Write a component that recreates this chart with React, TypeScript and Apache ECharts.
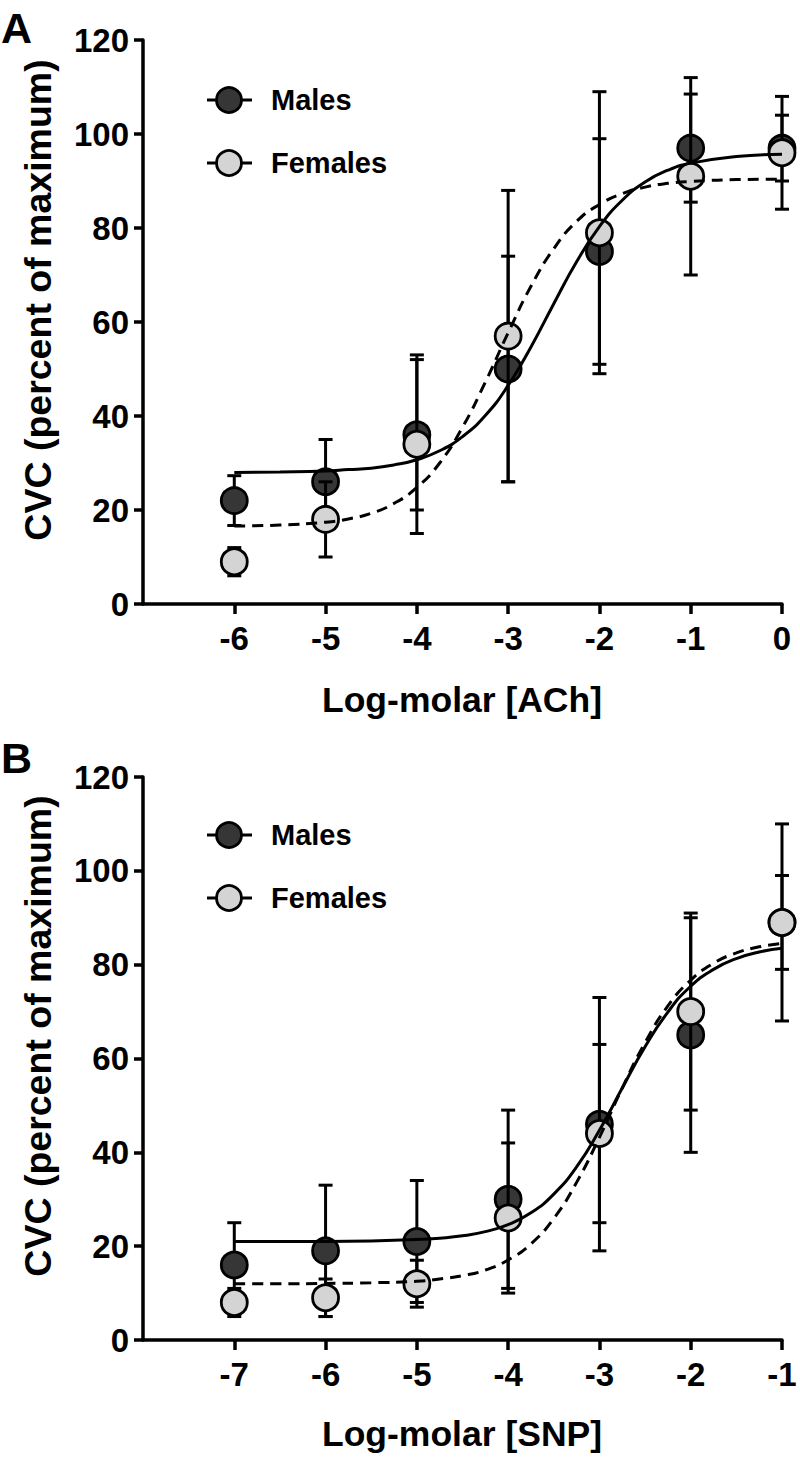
import React, { useEffect, useRef } from "react";
import * as echarts from "echarts";

// ---- tick labels ----
const xTicksA = [-6, -5, -4, -3, -2, -1, 0];
const xTicksB = [-7, -6, -5, -4, -3, -2, -1];
const yTicks = [0, 20, 40, 60, 80, 100, 120];

// ---- Panel A: ACh ----
const achDose = [-6, -5, -4, -3, -2, -1, 0];
const achMale = [22, 26, 36, 50, 75, 97, 97];
const achMaleErr = [5.3, 9, 16, 24, 24, 11.5, 7];
const achFemale = [9, 18, 34, 57, 79, 91, 96];
const achFemaleErr = [3, 8, 19, 31, 30, 21, 12];

// fitted curves
const achCurveX = [-6, -5.5, -5, -4.75, -4.5, -4.25, -4, -3.75, -3.5, -3.25, -3, -2.75, -2.5, -2.25, -2, -1.75, -1.5, -1.25, -1, -0.5, 0];
const achMaleFit = [28.0, 28.1, 28.3, 28.6, 28.9, 29.6, 30.7, 32.6, 35.6, 40.1, 46.5, 54.7, 63.9, 72.8, 80.3, 85.9, 89.8, 92.3, 93.8, 95.2, 95.7];
const achFemaleFit = [16.6, 16.8, 17.4, 18.1, 19.3, 21.4, 24.8, 30.0, 37.6, 47.2, 57.7, 67.6, 75.6, 81.4, 85.0, 87.3, 88.7, 89.5, 89.9, 90.3, 90.4];

// ---- Panel B: SNP ----
const snpDose = [-7, -6, -5, -4, -3, -2, -1];
const snpMale = [16, 19, 21, 30, 46, 65, 89];
const snpMaleErr = [9, 14, 13, 19, 27, 25, 10];
const snpFemale = [8, 9, 12, 26, 44, 70, 89];
const snpFemaleErr = [3, 4, 5, 16, 19, 21, 21];

const snpCurveX = [-7, -6.5, -6, -5.5, -5, -4.75, -4.5, -4.25, -4, -3.75, -3.5, -3.25, -3, -2.75, -2.5, -2.25, -2, -1.75, -1.5, -1.25, -1];
const snpMaleFit = [21.0, 21.0, 21.0, 21.1, 21.4, 21.7, 22.2, 23.1, 24.6, 27.1, 31.1, 36.9, 44.7, 53.7, 62.5, 69.9, 75.4, 79.0, 81.3, 82.7, 83.5];
const snpFemaleFit = [12.0, 12.0, 12.05, 12.2, 12.5, 13.0, 13.7, 14.9, 17.05, 20.5, 25.9, 33.6, 43.2, 53.7, 63.4, 71.2, 76.7, 80.3, 82.5, 83.8, 84.5];

const FONT = '"Liberation Sans", Arial, Helvetica, sans-serif';
const DARK = "#363636";
const LIGHT = "#d4d4d4";

function errorSeries(xs: number[], ys: number[], errs: number[], axis: number, z: number) {
  return {
    type: "custom",
    xAxisIndex: axis,
    yAxisIndex: axis,
    z,
    silent: true,
    data: xs.map((x, i) => [x, ys[i] - errs[i], ys[i] + errs[i]]),
    encode: { x: 0, y: [1, 2] },
    renderItem: (params: any, api: any) => {
      const x = api.value(0);
      const lo = api.coord([x, api.value(1)]);
      const hi = api.coord([x, api.value(2)]);
      const hw = 7;
      const style = { stroke: "#000", lineWidth: 3 };
      return {
        type: "group",
        children: [
          { type: "line", shape: { x1: lo[0], y1: lo[1], x2: hi[0], y2: hi[1] }, style },
          { type: "line", shape: { x1: lo[0] - hw, y1: lo[1], x2: lo[0] + hw, y2: lo[1] }, style },
          { type: "line", shape: { x1: hi[0] - hw, y1: hi[1], x2: hi[0] + hw, y2: hi[1] }, style },
        ],
      };
    },
  };
}

function pointSeries(name: string, xs: number[], ys: number[], axis: number, color: string, z: number) {
  return {
    type: "scatter",
    name,
    xAxisIndex: axis,
    yAxisIndex: axis,
    z,
    symbol: "circle",
    symbolSize: 26,
    itemStyle: { color, borderColor: "#000", borderWidth: 2.8, opacity: 1 },
    data: xs.map((x, i) => [x, ys[i]]),
  };
}

function curveSeries(xs: number[], ys: number[], axis: number, dashed: boolean) {
  return {
    type: "line",
    xAxisIndex: axis,
    yAxisIndex: axis,
    z: 10,
    smooth: true,
    showSymbol: false,
    silent: true,
    lineStyle: { color: "#000", width: 3, type: dashed ? [11, 7] : "solid" },
    data: xs.map((x, i) => [x, ys[i]]),
  };
}

function xAxisDef(grid: number, min: number, max: number, ticks: number[]) {
  return {
    type: "value",
    gridIndex: grid,
    min,
    max,
    interval: 1,
    splitLine: { show: false },
    axisLine: { show: true, onZero: false, lineStyle: { color: "#000", width: 3.5 } },
    axisTick: { show: true, customValues: ticks, length: 10, lineStyle: { color: "#000", width: 3.5 } },
    axisLabel: {
      customValues: ticks,
      margin: 18,
      color: "#000",
      fontSize: 33,
      fontWeight: "bold",
      fontFamily: FONT,
    },
  };
}

function yAxisDef(grid: number) {
  return {
    type: "value",
    gridIndex: grid,
    min: 0,
    max: 120,
    interval: 20,
    splitLine: { show: false },
    axisLine: { show: true, onZero: false, lineStyle: { color: "#000", width: 3.5 } },
    axisTick: { show: true, customValues: yTicks, length: 9, lineStyle: { color: "#000", width: 3.5 } },
    axisLabel: {
      customValues: yTicks,
      margin: 14,
      color: "#000",
      fontSize: 33,
      fontWeight: "bold",
      fontFamily: FONT,
    },
  };
}

function legendGraphics(y1: number, y2: number) {
  const items: any[] = [];
  [
    { y: y1, color: DARK, text: "Males" },
    { y: y2, color: LIGHT, text: "Females" },
  ].forEach((it) => {
    items.push({ type: "line", shape: { x1: 207, y1: it.y, x2: 252, y2: it.y }, style: { stroke: "#000", lineWidth: 3 } });
    items.push({ type: "circle", shape: { cx: 229, cy: it.y, r: 12.5 }, style: { fill: it.color, stroke: "#000", lineWidth: 2.8 } });
    items.push({
      type: "text",
      x: 271,
      y: it.y,
      style: { text: it.text, font: `bold 29px ${FONT}`, fill: "#000", verticalAlign: "middle", align: "left" },
    });
  });
  return items;
}

function textG(text: string, x: number, y: number, size: number, rot = 0, align = "center") {
  return {
    type: "text",
    x,
    y,
    rotation: rot,
    style: { text, font: `bold ${size}px ${FONT}`, fill: "#000", align, verticalAlign: "middle" },
  };
}

export default function App() {
  const ref = useRef<HTMLDivElement>(null);
  useEffect(() => {
    if (!ref.current) return;
    const chart = echarts.init(ref.current, undefined, { renderer: "svg" });
    chart.setOption({
      animation: false,
      backgroundColor: "#fff",
      grid: [
        { left: 143, top: 40, width: 639, height: 564 },
        { left: 143, top: 777, width: 639, height: 563 },
      ],
      xAxis: [xAxisDef(0, -7, 0, xTicksA), xAxisDef(1, -8, -1, xTicksB)],
      yAxis: [yAxisDef(0), yAxisDef(1)],
      series: [
        errorSeries(achDose, achMale, achMaleErr, 0, 2),
        pointSeries("Males", achDose, achMale, 0, DARK, 3),
        errorSeries(achDose, achFemale, achFemaleErr, 0, 4),
        pointSeries("Females", achDose, achFemale, 0, LIGHT, 5),
        curveSeries(achCurveX, achMaleFit, 0, false),
        curveSeries(achCurveX, achFemaleFit, 0, true),
        errorSeries(snpDose, snpMale, snpMaleErr, 1, 2),
        pointSeries("Males", snpDose, snpMale, 1, DARK, 3),
        errorSeries(snpDose, snpFemale, snpFemaleErr, 1, 4),
        pointSeries("Females", snpDose, snpFemale, 1, LIGHT, 5),
        curveSeries(snpCurveX, snpMaleFit, 1, false),
        curveSeries(snpCurveX, snpFemaleFit, 1, true),
      ],
      graphic: [
        textG("A", 1, 28, 43, 0, "left"),
        textG("B", 1, 758, 43, 0, "left"),
        textG("CVC (percent of maximum)", 38, 300, 37.5, Math.PI / 2),
        textG("CVC (percent of maximum)", 38, 1036, 37.5, Math.PI / 2),
        textG("Log-molar [ACh]", 462, 700, 35.5),
        textG("Log-molar [SNP]", 462, 1434, 35.5),
        ...legendGraphics(100, 163),
        ...legendGraphics(835, 898),
      ],
    });
    return () => chart.dispose();
  }, []);
  return <div ref={ref} style={{ position: "absolute", left: 0, top: 0, width: 800, height: 1460 }} />;
}
